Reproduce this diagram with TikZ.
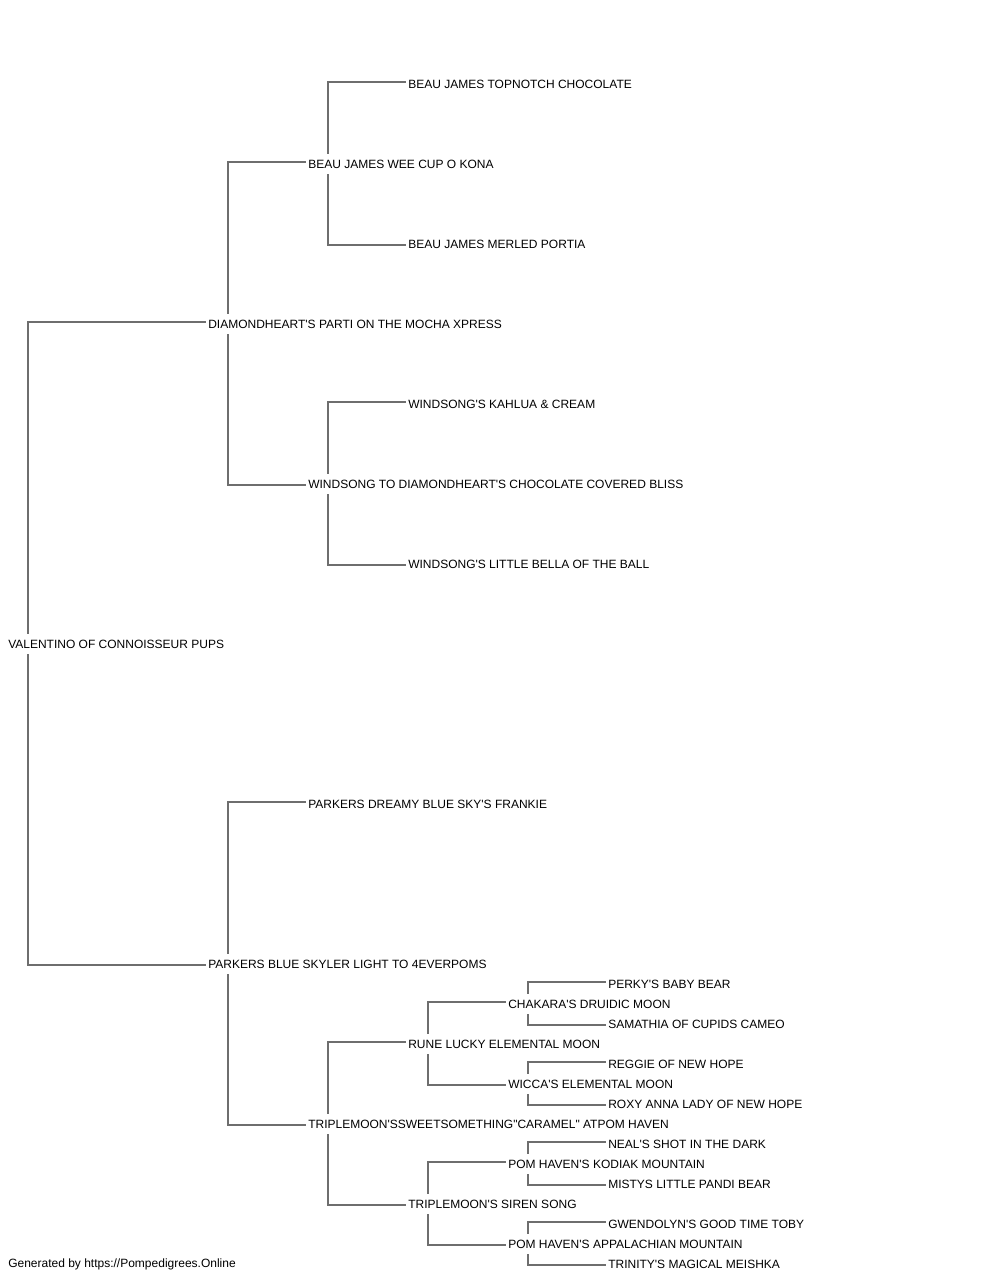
\documentclass[tikz,border=0pt]{standalone}
\usepackage{fontspec}
\newfontfamily\pedfont{Liberation Sans}
\usepackage{xcolor}
\usepackage{tikz}
\usetikzlibrary{positioning,calc}
\definecolor{linkgray}{RGB}{110,110,110}

\begin{document}
\begin{tikzpicture}[x=0.75pt,y=-0.75pt,
    dog/.style={anchor=west, inner xsep=1.5pt, inner ysep=0pt, minimum height=15pt, font=\pedfont\fontsize{9pt}{11pt}\selectfont},
    link/.style={draw=linkgray, line width=1.1pt}]
						\useasboundingbox (0,0) rectangle (1000,1280);
						% generation 1
						\node[dog] (val) at (6,644) {VALENTINO OF CONNOISSEUR PUPS};
						% generation 2
						\node[dog] (diam) at (206,324) {DIAMONDHEART'S PARTI ON THE MOCHA XPRESS};
						\node[dog] (skyler) at (206,964) {PARKERS BLUE SKYLER LIGHT TO 4EVERPOMS};
						% generation 3
						\node[dog] (kona) at (306,164) {BEAU JAMES WEE CUP O KONA};
						\node[dog] (bliss) at (306,484) {WINDSONG TO DIAMONDHEART'S CHOCOLATE COVERED BLISS};
						\node[dog] (frankie) at (306,804) {PARKERS DREAMY BLUE SKY'S FRANKIE};
						\node[dog] (caramel) at (306,1124) {TRIPLEMOON'SSWEETSOMETHING"CARAMEL" ATPOM HAVEN};
						% generation 4
						\node[dog] (topnotch) at (406,84) {BEAU JAMES TOPNOTCH CHOCOLATE};
						\node[dog] (portia) at (406,244) {BEAU JAMES MERLED PORTIA};
						\node[dog] (kahlua) at (406,404) {WINDSONG'S KAHLUA \& CREAM};
						\node[dog] (bella) at (406,564) {WINDSONG'S LITTLE BELLA OF THE BALL};
						\node[dog] (rune) at (406,1044) {RUNE LUCKY ELEMENTAL MOON};
						\node[dog] (siren) at (406,1204) {TRIPLEMOON'S SIREN SONG};
						% generation 5
						\node[dog] (chakara) at (506,1004) {CHAKARA'S DRUIDIC MOON};
						\node[dog] (wicca) at (506,1084) {WICCA'S ELEMENTAL MOON};
						\node[dog] (kodiak) at (506,1164) {POM HAVEN'S KODIAK MOUNTAIN};
						\node[dog] (appal) at (506,1244) {POM HAVEN'S APPALACHIAN MOUNTAIN};
						% generation 6
						\node[dog] (perky) at (606,984) {PERKY'S BABY BEAR};
						\node[dog] (samathia) at (606,1024) {SAMATHIA OF CUPIDS CAMEO};
						\node[dog] (reggie) at (606,1064) {REGGIE OF NEW HOPE};
						\node[dog] (roxy) at (606,1104) {ROXY ANNA LADY OF NEW HOPE};
						\node[dog] (neal) at (606,1144) {NEAL'S SHOT IN THE DARK};
						\node[dog] (misty) at (606,1184) {MISTYS LITTLE PANDI BEAR};
						\node[dog] (toby) at (606,1224) {GWENDOLYN'S GOOD TIME TOBY};
						\node[dog] (meishka) at (606,1264) {TRINITY'S MAGICAL MEISHKA};
						\node[dog] (credit) at (6,1264) {Generated by https://Pompedigrees.Online};
						% sire lines go up, dam lines go down
						\draw[link] ($(val.north west)+(22,0)$) |- ([yshift=1.5pt]diam.west);
						\draw[link] ($(val.south west)+(22,0)$) |- ([yshift=-0.75pt]skyler.west);
						\draw[link] ($(diam.north west)+(22,0)$) |- ([yshift=1.5pt]kona.west);
						\draw[link] ($(diam.south west)+(22,0)$) |- ([yshift=-0.75pt]bliss.west);
						\draw[link] ($(kona.north west)+(22,0)$) |- ([yshift=1.5pt]topnotch.west);
						\draw[link] ($(kona.south west)+(22,0)$) |- ([yshift=-0.75pt]portia.west);
						\draw[link] ($(bliss.north west)+(22,0)$) |- ([yshift=1.5pt]kahlua.west);
						\draw[link] ($(bliss.south west)+(22,0)$) |- ([yshift=-0.75pt]bella.west);
						\draw[link] ($(skyler.north west)+(22,0)$) |- ([yshift=1.5pt]frankie.west);
						\draw[link] ($(skyler.south west)+(22,0)$) |- ([yshift=-0.75pt]caramel.west);
						\draw[link] ($(caramel.north west)+(22,0)$) |- ([yshift=1.5pt]rune.west);
						\draw[link] ($(caramel.south west)+(22,0)$) |- ([yshift=-0.75pt]siren.west);
						\draw[link] ($(rune.north west)+(22,0)$) |- ([yshift=1.5pt]chakara.west);
						\draw[link] ($(rune.south west)+(22,0)$) |- ([yshift=-0.75pt]wicca.west);
						\draw[link] ($(siren.north west)+(22,0)$) |- ([yshift=1.5pt]kodiak.west);
						\draw[link] ($(siren.south west)+(22,0)$) |- ([yshift=-0.75pt]appal.west);
						\draw[link] ($(chakara.north west)+(22,0)$) |- ([yshift=1.5pt]perky.west);
						\draw[link] ($(chakara.south west)+(22,0)$) |- ([yshift=-0.75pt]samathia.west);
						\draw[link] ($(wicca.north west)+(22,0)$) |- ([yshift=1.5pt]reggie.west);
						\draw[link] ($(wicca.south west)+(22,0)$) |- ([yshift=-0.75pt]roxy.west);
						\draw[link] ($(kodiak.north west)+(22,0)$) |- ([yshift=1.5pt]neal.west);
						\draw[link] ($(kodiak.south west)+(22,0)$) |- ([yshift=-0.75pt]misty.west);
						\draw[link] ($(appal.north west)+(22,0)$) |- ([yshift=1.5pt]toby.west);
						\draw[link] ($(appal.south west)+(22,0)$) |- ([yshift=-0.75pt]meishka.west);
					\end{tikzpicture}
\end{document}
